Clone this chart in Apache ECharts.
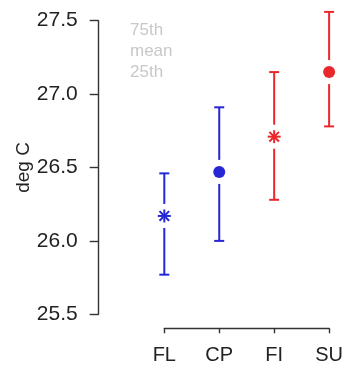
<!DOCTYPE html>
<html>
<head>
<meta charset="utf-8">
<script src="https://cdn.jsdelivr.net/npm/echarts@6/dist/echarts.min.js"></script>
<style>html,body{margin:0;padding:0;background:#fff}#c{width:346px;height:368px}</style>
</head>
<body>
<div id="c"></div>
<script>
const categories = ['FL', 'CP', 'FI', 'SU'];
const q75 = [26.46, 26.91, 27.15, 27.56];
const means = [26.17, 26.47, 26.71, 27.15];
const q25 = [25.77, 26.00, 26.28, 26.78];
const yTicks = [25.5, 26.0, 26.5, 27.0, 27.5];
const legendLines = ['75th', 'mean', '25th'];

const BLUE = '#2626d4', RED = '#e8282c';
const markerColor = [BLUE, BLUE, RED, RED];
const markerShape = ['star', 'circle', 'star', 'circle'];

const chart = echarts.init(document.getElementById('c'));
const data = categories.map((c, i) => [i, q25[i], means[i], q75[i]]);

function renderItem(params, api) {
  const i = api.value(0);
  const lo = api.coord([i, api.value(1)]);
  const m = api.coord([i, api.value(2)]);
  const hi = api.coord([i, api.value(3)]);
  const x = m[0];
  const col = markerColor[params.dataIndex];
  const ls = { stroke: col, lineWidth: 2 };
  const cap = 5, gap = 12;
  const ch = [
    { type: 'line', shape: { x1: x - cap, y1: hi[1], x2: x + cap, y2: hi[1] }, style: ls },
    { type: 'line', shape: { x1: x - cap, y1: lo[1], x2: x + cap, y2: lo[1] }, style: ls },
    { type: 'line', shape: { x1: x, y1: hi[1], x2: x, y2: m[1] - gap }, style: ls },
    { type: 'line', shape: { x1: x, y1: m[1] + gap, x2: x, y2: lo[1] }, style: ls }
  ];
  if (markerShape[params.dataIndex] === 'circle') {
    ch.push({ type: 'circle', shape: { cx: x, cy: m[1], r: 6 }, style: { fill: col } });
  } else {
    const r = 6.5, d = 4.8;
    const ss = { stroke: col, lineWidth: 2 };
    ch.push({ type: 'line', shape: { x1: x - r, y1: m[1], x2: x + r, y2: m[1] }, style: ss });
    ch.push({ type: 'line', shape: { x1: x, y1: m[1] - r, x2: x, y2: m[1] + r }, style: ss });
    ch.push({ type: 'line', shape: { x1: x - d, y1: m[1] - d, x2: x + d, y2: m[1] + d }, style: ss });
    ch.push({ type: 'line', shape: { x1: x - d, y1: m[1] + d, x2: x + d, y2: m[1] - d }, style: ss });
  }
  return { type: 'group', children: ch };
}

const axisCol = '#333';
chart.setOption({
  animation: false,
  grid: { left: 164.3, width: 166.7, top: 20.7, bottom: 53.7 },
  xAxis: {
    type: 'category', data: categories, boundaryGap: false, offset: 14,
    axisLine: { show: true, lineStyle: { color: axisCol, width: 1.4 } },
    axisTick: { show: true, length: 5, lineStyle: { color: axisCol, width: 1.4 } },
    axisLabel: { color: '#222', fontSize: 20, margin: 17, fontFamily: 'Liberation Sans' },
    splitLine: { show: false }
  },
  yAxis: {
    type: 'value', min: yTicks[0], max: yTicks[yTicks.length - 1], interval: 0.5,
    offset: 65.6,
    name: 'deg C', nameLocation: 'middle', nameGap: 65,
    nameTextStyle: { color: '#222', fontSize: 19, fontFamily: 'Liberation Sans' },
    axisLine: { show: true, lineStyle: { color: axisCol, width: 1.4 } },
    axisTick: { show: true, length: 9, lineStyle: { color: axisCol, width: 1.4 } },
    axisLabel: { color: '#222', fontSize: 21, margin: 21, fontFamily: 'Liberation Sans',
      formatter: v => v.toFixed(1) },
    splitLine: { show: false }
  },
  graphic: legendLines.map((t, k) => ({
    type: 'text', left: 130, top: 22 + k * 21,
    style: { text: t, fill: '#c8c8c8', fontSize: 17, fontFamily: 'Liberation Sans' }
  })),
  series: [{
    type: 'custom', renderItem: renderItem, data: data, clip: false,
    encode: { x: 0, y: [1, 2, 3] }
  }]
});
</script>
</body>
</html>
